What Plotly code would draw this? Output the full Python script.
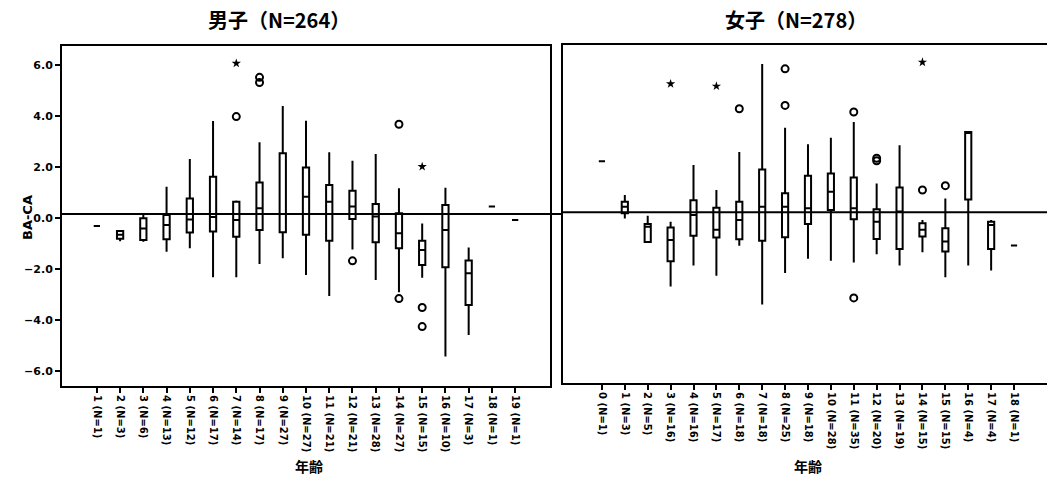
import plotly.graph_objects as go

W, H = 1047, 479

# ---------------- data ----------------
boy_labels = ["1 (N=1)", "2 (N=3)", "3 (N=6)", "4 (N=13)", "5 (N=12)", "6 (N=17)", "7 (N=14)",
              "8 (N=17)", "9 (N=27)", "10 (N=27)", "11 (N=21)", "12 (N=21)", "13 (N=28)",
              "14 (N=27)", "15 (N=15)", "16 (N=10)", "17 (N=3)", "18 (N=1)", "19 (N=1)"]
boy_lo = [-0.3, -0.9, -0.92, -1.31, -1.18, -2.31, -2.31, -1.79, -1.57, -2.22, -3.05, -1.22, -2.42, -2.9, -2.33, -5.42, -4.58, 0.46, -0.07]
boy_q1 = [-0.3, -0.8, -0.85, -0.82, -0.56, -0.52, -0.72, -0.46, -0.55, -0.65, -0.88, -0.03, -0.94, -1.18, -1.83, -1.92, -3.4, 0.46, -0.07]
boy_med = [-0.3, -0.65, -0.4, -0.26, -0.05, 0.05, -0.07, 0.39, 0.17, 0.85, 0.65, 0.46, 0.07, -0.59, -1.24, -0.46, -2.16, 0.46, -0.07]
boy_q3 = [-0.3, -0.5, 0.0, 0.13, 0.78, 1.63, 0.65, 1.40, 2.55, 1.99, 1.31, 1.08, 0.56, 0.2, -0.88, 0.52, -1.66, 0.46, -0.07]
boy_hi = [-0.3, -0.5, 0.2, 1.24, 2.33, 3.82, 0.7, 2.98, 4.41, 3.83, 2.59, 2.26, 2.52, 1.18, -0.2, 1.2, -1.15, 0.46, -0.07]
boy_out_x = ["7 (N=14)", "8 (N=17)", "8 (N=17)", "12 (N=21)", "14 (N=27)", "14 (N=27)", "15 (N=15)", "15 (N=15)"]
boy_out_y = [3.99, 5.53, 5.33, -1.67, 3.69, -3.15, -3.50, -4.25]
boy_ext_x = ["7 (N=14)", "15 (N=15)"]
boy_ext_y = [6.08, 2.03]

girl_labels = ["0 (N=1)", "1 (N=3)", "2 (N=5)", "3 (N=16)", "4 (N=16)", "5 (N=17)", "6 (N=18)",
               "7 (N=18)", "8 (N=25)", "9 (N=18)", "10 (N=28)", "11 (N=35)", "12 (N=20)",
               "13 (N=19)", "14 (N=15)", "15 (N=15)", "16 (N=4)", "17 (N=4)", "18 (N=1)"]
girl_lo = [2.18, -0.07, -1.0, -2.75, -1.92, -2.33, -1.15, -3.46, -2.22, -1.66, -1.74, -1.80, -1.48, -1.92, -1.4, -2.39, -1.92, -2.12, -1.14]
girl_q1 = [2.18, 0.13, -1.0, -1.76, -0.75, -0.82, -0.89, -0.95, -0.81, -0.29, 0.26, -0.1, -0.88, -1.27, -0.78, -1.37, 0.68, -1.27, -1.14]
girl_med = [2.18, 0.39, -0.4, -0.92, 0.07, -0.52, -0.13, 0.39, 0.39, 0.33, 0.98, 0.33, -0.2, 0.2, -0.52, -0.98, 3.3, -0.33, -1.14]
girl_q3 = [2.18, 0.59, -0.29, -0.43, 0.65, 0.35, 0.59, 1.86, 0.92, 1.61, 1.70, 1.54, 0.29, 1.15, -0.26, -0.46, 3.33, -0.2, -1.14]
girl_hi = [2.18, 0.85, 0.04, -0.2, 2.03, 1.05, 2.55, 6.01, 3.5, 2.85, 3.11, 3.73, 1.31, 2.81, -0.13, 0.72, 3.33, -0.13, -1.14]
girl_out_x = ["6 (N=18)", "8 (N=25)", "8 (N=25)", "11 (N=35)", "11 (N=35)", "12 (N=20)", "12 (N=20)", "14 (N=15)", "15 (N=15)"]
girl_out_y = [4.25, 5.82, 4.38, 4.12, -3.2, 2.3, 2.2, 1.05, 1.22]
girl_ext_x = ["3 (N=16)", "5 (N=17)", "14 (N=15)"]
girl_ext_y = [5.23, 5.14, 6.08]

ref_value = 0.17
y_ticks = [-6, -4, -2, 0, 2, 4, 6]
titles = ["男子（N=264）", "女子（N=278）"]
x_title = "年齢"
y_title = "BA-CA"

# ---------------- figure ----------------
fig = go.Figure()

box_style = dict(fillcolor="white", line=dict(color="black", width=2),
                 whiskerwidth=0, width=0.27, boxpoints=False, showlegend=False,
                 hoverinfo="skip")

fig.add_trace(go.Box(x=boy_labels, lowerfence=boy_lo, q1=boy_q1, median=boy_med,
                     q3=boy_q3, upperfence=boy_hi, xaxis="x", yaxis="y", **box_style))
fig.add_trace(go.Box(x=girl_labels, lowerfence=girl_lo, q1=girl_q1, median=girl_med,
                     q3=girl_q3, upperfence=girl_hi, xaxis="x2", yaxis="y2", **box_style))

circ = dict(symbol="circle-open", size=7, color="black", line=dict(width=2, color="black"))
star = dict(symbol="star", size=7, color="black", line=dict(width=0))

fig.add_trace(go.Scatter(x=boy_out_x, y=boy_out_y, mode="markers", marker=circ,
                         xaxis="x", yaxis="y", showlegend=False))
fig.add_trace(go.Scatter(x=boy_ext_x, y=boy_ext_y, mode="markers", marker=star,
                         xaxis="x", yaxis="y", showlegend=False))
fig.add_trace(go.Scatter(x=girl_out_x, y=girl_out_y, mode="markers", marker=circ,
                         xaxis="x2", yaxis="y2", showlegend=False))
fig.add_trace(go.Scatter(x=girl_ext_x, y=girl_ext_y, mode="markers", marker=star,
                         xaxis="x2", yaxis="y2", showlegend=False))

xtickfont = dict(family="DejaVu Sans", size=10, color="black", weight="bold")
ytickfont = dict(family="DejaVu Sans", size=11, color="black", weight="bold")

L0, L1 = 62 / W, 550 / W
R0, R1 = 563 / W, 1.0
yd_left = [1 - 386 / H, 1 - 46 / H]
yd_right = [1 - 383 / H, 1 - 45 / H]

fig.update_layout(
    width=W, height=H,
    margin=dict(l=0, r=0, t=0, b=0),
    paper_bgcolor="white", plot_bgcolor="white",
    xaxis=dict(domain=[L0, L1], type="category", categoryorder="array",
               categoryarray=boy_labels, range=[-1.5, 19.5],
               tickangle=90, tickfont=xtickfont, ticks="outside", ticklen=5,
               tickwidth=2, tickcolor="black", showline=True, mirror=True,
               linewidth=2, linecolor="black", showgrid=False, zeroline=False,
               anchor="y"),
    yaxis=dict(domain=yd_left, range=[-6.58, 6.76], tickvals=y_ticks,
               tickformat=".1f", tickfont=ytickfont, ticks="outside", ticklen=5,
               tickwidth=2, tickcolor="black", showline=True, mirror=True,
               linewidth=2, linecolor="black", showgrid=False, zeroline=False,
               anchor="x"),
    xaxis2=dict(domain=[R0, R1], type="category", categoryorder="array",
                categoryarray=girl_labels, range=[-1.7, 19.44],
                tickangle=90, tickfont=xtickfont, ticks="outside", ticklen=5,
                tickwidth=2, tickcolor="black", showline=True, mirror=True,
                linewidth=2, linecolor="black", showgrid=False, zeroline=False,
                anchor="y2"),
    yaxis2=dict(domain=yd_right, range=[-6.55, 6.76], showticklabels=False,
                ticks="", showline=True, mirror=False, linewidth=2,
                linecolor="black", showgrid=False, zeroline=False, anchor="x2"),
)

fig.add_shape(type="line", xref="paper", yref="y", x0=L0, x1=R0,
              y0=ref_value, y1=ref_value, line=dict(color="black", width=2))
fig.add_shape(type="line", xref="paper", yref="y2", x0=R0, x1=R1,
              y0=ref_value, y1=ref_value, line=dict(color="black", width=2))

title_font = dict(family="Noto Sans CJK JP", size=20, color="black", weight="bold")
cjk_small = dict(family="Noto Sans CJK JP", size=14, color="black", weight="bold")

def ann(text, px, py, font, angle=0):
    fig.add_annotation(text=text, x=px / W, y=1 - py / H, xref="paper", yref="paper",
                       showarrow=False, font=font, textangle=angle,
                       xanchor="center", yanchor="middle")

ann(titles[0], 279, 19, title_font)
ann(titles[1], 796, 19, title_font)
ann(x_title, 309, 466, cjk_small)
ann(x_title, 808, 466, cjk_small)
ann(y_title, 27, 218, dict(family="DejaVu Sans", size=13, color="black", weight="bold"), -90)

fig.write_html("out.html")
